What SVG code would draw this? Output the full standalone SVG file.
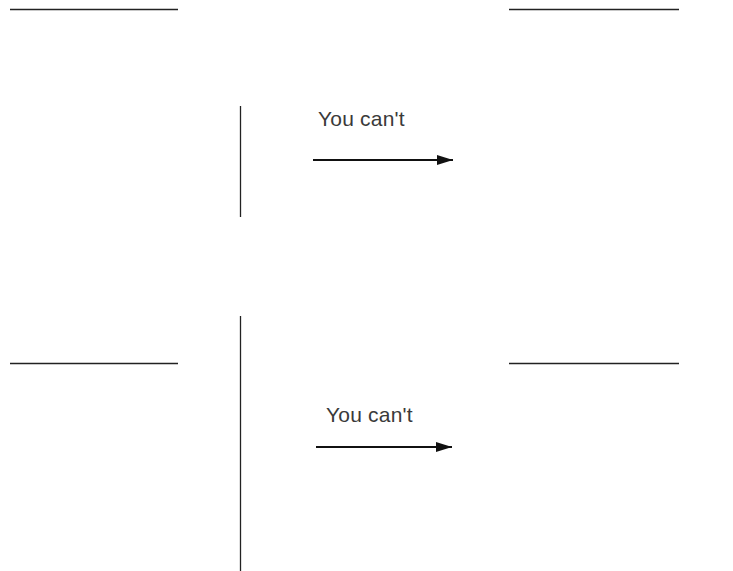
<svg xmlns="http://www.w3.org/2000/svg" width="733" height="571" viewBox="0 0 733 571">
<style>
.ln{stroke:#222;stroke-width:1.3;fill:none}
.ar{stroke:#111;stroke-width:2;fill:none}
.t{font-family:"Liberation Sans",Arial,sans-serif;font-size:21px;fill:#3a3a3a;letter-spacing:0.2px}
</style>
<defs>
<marker id="ah" markerWidth="8" markerHeight="5" refX="8" refY="2.5" orient="auto" markerUnits="strokeWidth">
<path d="M0,0 L8,2.5 L0,5 Z" fill="#111"/>
</marker>
</defs>
<rect width="733" height="571" fill="#fff"/>
<g id="lines">
<line class="ln" x1="10" y1="9.5" x2="178" y2="9.5"/>
<line class="ln" x1="509" y1="9.5" x2="679" y2="9.5"/>
<line class="ln" x1="240.5" y1="106" x2="240.5" y2="217"/>
<line class="ln" x1="10" y1="363.5" x2="178" y2="363.5"/>
<line class="ln" x1="509" y1="363.5" x2="679" y2="363.5"/>
<line class="ln" x1="240.5" y1="316" x2="240.5" y2="571"/>
</g>
<g id="connectors">
<line class="ar" x1="313" y1="160" x2="453" y2="160" marker-end="url(#ah)"/>
<line class="ar" x1="316" y1="447" x2="452" y2="447" marker-end="url(#ah)"/>
</g>
<g id="label1"><text class="t" x="318" y="126">You can't</text></g>
<g id="label2"><text class="t" x="326" y="422">You can't</text></g>
</svg>
